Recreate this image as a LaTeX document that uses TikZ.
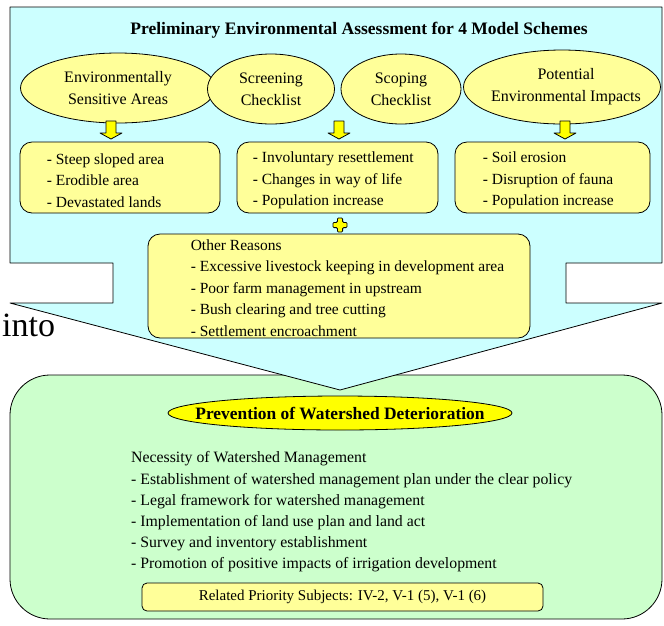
\documentclass[tikz,border=0pt]{standalone}
\usepackage{fontspec}
\setmainfont{Liberation Serif}
\usetikzlibrary{shapes.geometric,calc}
\definecolor{skyfill}{HTML}{CCFFFF}
\definecolor{paleyellow}{HTML}{FFFF99}
\definecolor{palegreen}{HTML}{CCFFCC}
\definecolor{brightyellow}{HTML}{FFFF00}
\begin{document}
\begin{tikzpicture}[x=1pt,y=-1pt,line join=round,
  oval/.style={ellipse,draw=black,fill=paleyellow,line width=0.8pt,inner sep=0pt},
  ovaltext/.style={align=center,inner sep=0pt,font=\fontsize{16}{22}\selectfont},
  listbox/.style={draw=black,fill=paleyellow,line width=0.8pt,rounded corners=12pt},
  listtext/.style={align=left,anchor=west,inner sep=0pt,font=\fontsize{15.5}{21.5}\selectfont},
  outline/.style={draw=black,line width=0.8pt},
  pics/dnarrow/.style={code={
    \draw[outline,fill=brightyellow] (-5,-9) -- (5,-9) -- (5,3) -- (11,3) -- (0,9)
      -- (-11,3) -- (-5,3) -- cycle;}},
  pics/plussign/.style={code={
    \draw[outline,fill=brightyellow,rounded corners=1pt] (-2.6,-7) -- (2.6,-7) -- (2.6,-2.6)
      -- (7,-2.6) -- (7,2.6) -- (2.6,2.6) -- (2.6,7) -- (-2.6,7) -- (-2.6,2.6)
      -- (-7,2.6) -- (-7,-2.6) -- (-2.6,-2.6) -- cycle;}}
]
\useasboundingbox (0,0) rectangle (664,625);

% lower panel: watershed management
\draw[outline,fill=palegreen,rounded corners=40pt] (10,375) rectangle (662,619);

% upper panel with its arrow-shaped lower part
\draw[outline,fill=skyfill] (10,7) -- (662,7) -- (662,263) -- (566,263) -- (566,303)
  -- (662,303) -- (340,390) -- (10,303) -- (113,303) -- (113,263) -- (10,263) -- cycle;

\node[font=\bfseries\fontsize{17.5}{20}\selectfont] (title) at (359,30)
  {Preliminary Environmental Assessment for 4 Model Schemes};

% assessment headings
\node[oval,minimum width=195,minimum height=70] (esa) at (118,88) {};
\node[ovaltext] at (esa.center) {Environmentally\\Sensitive Areas};
\node[oval,minimum width=127,minimum height=70] (scr) at (271,89) {};
\node[ovaltext] at (scr.center) {Screening\\Checklist};
\node[oval,minimum width=120,minimum height=70] (scp) at (401,89) {};
\node[ovaltext] at (scp.center) {Scoping\\Checklist};
\node[oval,minimum width=197,minimum height=74] (pei) at (562,87) {};
\node[ovaltext] at ($(pei.center)+(4,0)$) {Potential\\Environmental Impacts};

\pic at (111,130) {dnarrow};
\pic at (339,130) {dnarrow};
\pic at (565,130) {dnarrow};

% findings
\node[listbox,minimum width=200,minimum height=71] (b1) at (120,177.5) {};
\node[listtext] (t1) at ($(b1.west)+(27,3)$)
  {- Steep sloped area\\- Erodible area\\- Devastated lands};
\node[listbox,minimum width=201,minimum height=71] (b2) at (337.5,177.5) {};
\node[listtext] (t2) at ($(b2.west)+(16,3)$)
  {- Involuntary resettlement\\- Changes in way of life\\- Population increase};
\node[listbox,minimum width=195,minimum height=71] (b3) at (552.5,177.5) {};
\node[listtext] (t3) at ($(b3.west)+(28,3)$)
  {- Soil erosion\\- Disruption of fauna\\- Population increase};

\pic at (340,225) {plussign};

\node[listbox,minimum width=382,minimum height=104] (other) at (339,286) {};
\node[listtext] (tother) at ($(other.west)+(43,2)$)
  {Other Reasons\\- Excessive livestock keeping in development area\\
  - Poor farm management in upstream\\- Bush clearing and tree cutting\\- Settlement encroachment};

\node[font=\fontsize{34}{36}\selectfont,anchor=base west,inner sep=0pt] (into) at (2,336) {into};

% result
\node[ellipse,draw=black,fill=brightyellow,line width=0.8pt,inner sep=0pt,
  minimum width=344,minimum height=34] (prev) at (340,413) {};
\node[inner sep=0pt,font=\bfseries\fontsize{17.4}{20}\selectfont] (prevtext) at (prev.center)
  {Prevention of Watershed Deterioration};

\node[align=left,anchor=west,inner sep=0pt,font=\fontsize{15.8}{21.2}\selectfont]
  (need) at (131,512)
  {Necessity of Watershed Management\\
   - Establishment of watershed management plan under the clear policy\\
   - Legal framework for watershed management\\
   - Implementation of land use plan and land act\\
   - Survey and inventory establishment\\
   - Promotion of positive impacts of irrigation development};

\node[draw=black,fill=paleyellow,line width=0.8pt,rounded corners=5pt,
  minimum width=401,minimum height=28,font=\fontsize{15}{17}\selectfont]
  (prio) at (342.5,597) {Related Priority Subjects: IV-2, V-1 (5), V-1 (6)};
\end{tikzpicture}
\end{document}
